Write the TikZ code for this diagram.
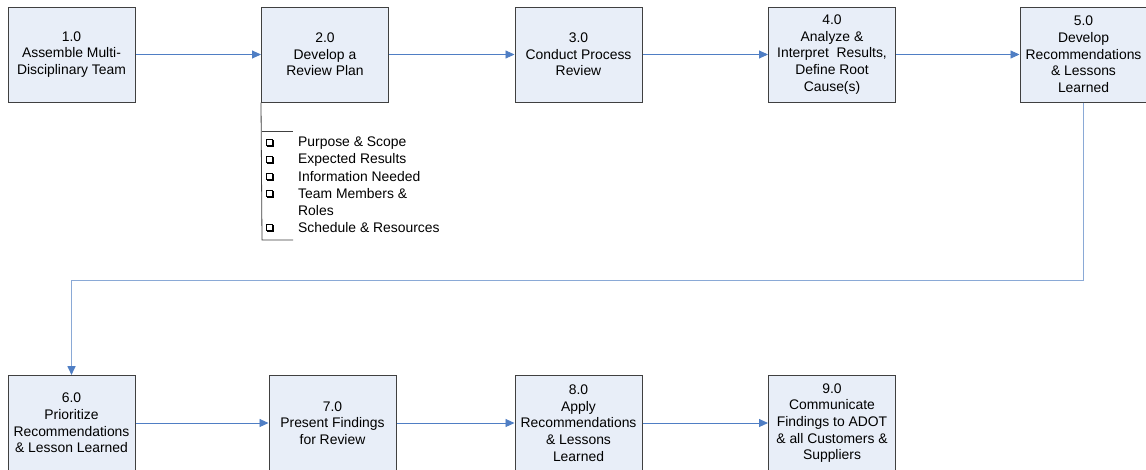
\documentclass[tikz,border=0pt]{standalone}
\usepackage{fontspec}
\setmainfont{Liberation Sans}
\usetikzlibrary{arrows.meta}
\definecolor{boxfill}{HTML}{E8EEF8}
\definecolor{boxline}{HTML}{404040}
\definecolor{arrowblue}{HTML}{4F7EC4}
\definecolor{lightblue}{HTML}{8AA9D6}
\tikzset{
  procbox/.style={draw=boxline, line width=1pt, fill=boxfill, minimum width=127pt, minimum height=95pt,
    inner sep=0pt, align=center, font=\fontsize{13.9}{16.7}\selectfont},
  flow/.style={draw=arrowblue, line width=0.9pt, -{Triangle[length=9pt,width=8pt]}},
  loopflow/.style={draw=lightblue, line width=1.6pt, -{Triangle[length=9pt,width=8pt,color=arrowblue]}},
  listtxt/.style={anchor=west, inner sep=0pt, font=\fontsize{13.9}{16.7}\selectfont},
  chk/.style={draw=black, line width=0.9pt},
  brk/.style={draw=boxline, line width=0.8pt}
}
\begin{document}
\begin{tikzpicture}[x=1pt,y=-1pt]
\useasboundingbox (0,0) rectangle (1146,469);
\clip (0,0) rectangle (1146,469);
\fill[white] (0,0) rectangle (1146,469);
% top row
\node[procbox] (b1) at (71.5,54.5) {1.0\\Assemble Multi-\\Disciplinary Team};
\node[procbox] (b2) at (325,54.5) {2.0\\Develop a\\Review Plan};
\node[procbox] (b3) at (578.5,54.5) {3.0\\Conduct Process\\Review};
\node[procbox] (b4) at (832,54.5) {4.0\\Analyze \&\\Interpret\ \ Results,\\Define Root\\Cause(s)};
\node[procbox] (b5) at (1083.5,54.5) {5.0\\Develop\\Recommendations\\\& Lessons\\Learned};
% bottom row
\node[procbox] (b6) at (71.5,423) {6.0\\Prioritize\\Recommendations\\\& Lesson Learned};
\node[procbox] (b7) at (332.5,423) {7.0\\Present Findings\\for Review};
\node[procbox] (b8) at (578.5,423) {8.0\\Apply\\Recommendations\\\& Lessons\\Learned};
\node[procbox] (b9) at (832,423) {9.0\\Communicate\\Findings to ADOT\\\& all Customers \&\\Suppliers};
% arrows
\draw[flow] (b1.east) -- (b2.west);
\draw[flow] (b2.east) -- (b3.west);
\draw[flow] (b3.east) -- (b4.west);
\draw[flow] (b4.east) -- (b5.west);
\draw[flow] (b6.east) -- (b7.west);
\draw[flow] (b7.east) -- (b8.west);
\draw[flow] (b8.east) -- (b9.west);
\draw[loopflow] (b5.south) -- ++(0,178) -| (b6.north);
% checklist bracket
\coordinate (bt) at (262,131);
\coordinate (bb) at (262,240);
\draw[brk] (b2.south west) -- (bb) -- ++(31,0);
\draw[brk] (bt) -- ++(31,0);
\node[listtxt] (l1) at (298,143) {Purpose \& Scope};
\node[listtxt] (l2) at (298,160) {Expected Results};
\node[listtxt] (l3) at (298,177) {Information Needed};
\node[listtxt] (l4) at (298,194) {Team Members \&};
\node[listtxt] (l5) at (298,211) {Roles};
\node[listtxt] (l6) at (298,228) {Schedule \& Resources};
\foreach \yy in {143,160,177,194,228}{
  \draw[chk] (266,\yy-4) rectangle (272.5,\yy+2.5);
  \draw[draw=black, line width=1.3pt] (267,\yy+3.4) -- (273.4,\yy+3.4) -- (273.4,\yy-3);
}
\end{tikzpicture}
\end{document}
